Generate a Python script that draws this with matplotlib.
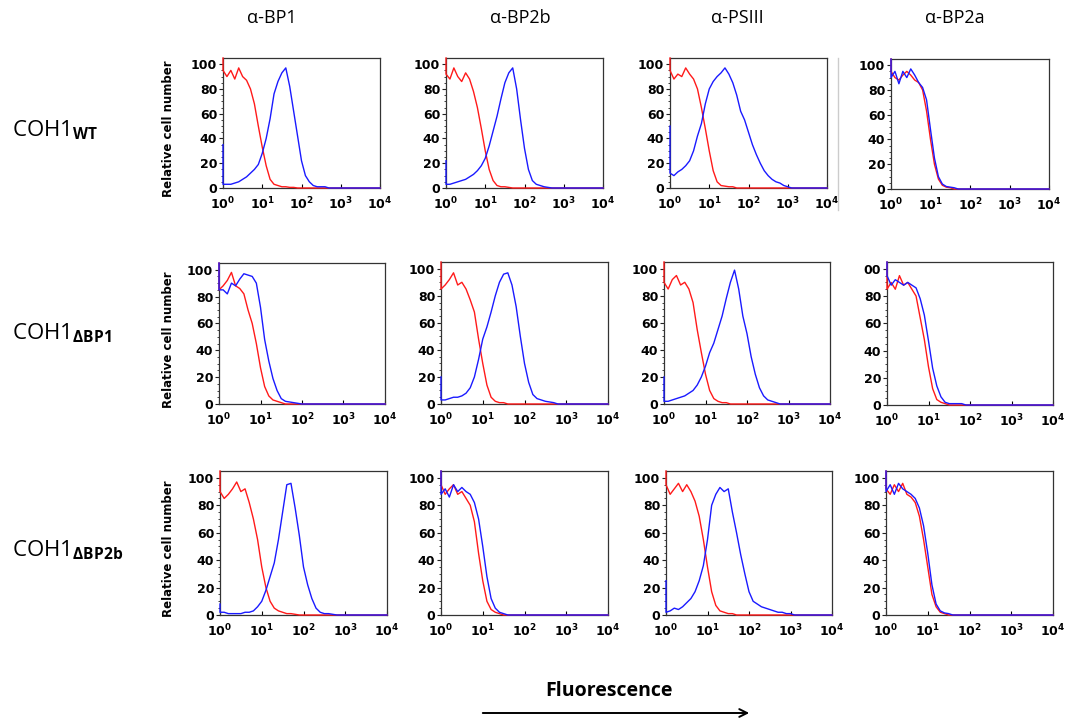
import numpy as np
import matplotlib.pyplot as plt
from matplotlib.ticker import LogLocator, NullFormatter

# 눈금 라벨은 굵은 DejaVu, 아래첨자는 Open Sans 굵게
plt.rcParams['mathtext.fontset'] = 'custom'
plt.rcParams['mathtext.rm'] = 'DejaVu Sans:bold'
plt.rcParams['mathtext.bf'] = 'Open Sans:bold'
plt.rcParams['mathtext.default'] = 'rm'

col_titles = ['α-BP1', 'α-BP2b', 'α-PSIII', 'α-BP2a']
row_strains = ['WT', 'ΔBP1', 'ΔBP2b']
x_tick_labels = [r'$10^{0}$', r'$10^{1}$', r'$10^{2}$', r'$10^{3}$', r'$10^{4}$']
y_tick_labels = ['0', '20', '40', '60', '80', '100']

# log10(fluorescence) bins: first entry is the spike at 10^0, then 0.0 .. 4.0
log_bins = [0.0] + [round(0.1 * i, 1) for i in range(41)]

# red = control, blue = antibody  (relative cell number)
wt_bp1_red = [105, 95, 90, 95, 88, 97, 90, 87, 80, 68, 50, 33, 18, 7, 3, 2, 1, 1, 0.5, 0.5]
wt_bp1_blue = [35, 3, 3, 3, 4, 5, 7, 9, 12, 15, 19, 28, 40, 56, 76, 86, 93, 97, 82, 62, 42, 22, 10, 5, 2, 1, 1, 1]
wt_bp2b_red = [105, 92, 88, 97, 90, 86, 93, 88, 78, 65, 48, 30, 15, 6, 2, 1, 1, 0.5]
wt_bp2b_blue = [22, 3, 3, 4, 5, 6, 7, 9, 11, 14, 18, 24, 34, 46, 58, 72, 85, 93, 97, 80, 55, 32, 15, 6, 3, 2, 1, 0.5]
wt_psiii_red = [105, 95, 88, 92, 90, 97, 92, 88, 80, 65, 48, 30, 14, 5, 2, 1.5, 1, 1]
wt_psiii_blue = [50, 12, 10, 13, 15, 18, 22, 30, 42, 52, 68, 80, 86, 90, 93, 97, 92, 85, 75, 62, 55, 45, 35, 27, 20, 14, 10, 7, 5, 4, 2, 1]
wt_bp2a_red = [105, 95, 90, 88, 92, 95, 92, 88, 86, 80, 63, 40, 20, 8, 3, 1.5, 1]
wt_bp2a_blue = [105, 90, 95, 85, 95, 90, 97, 92, 86, 82, 72, 48, 25, 10, 4, 2, 1.5, 1]

d1_bp1_red = [105, 85, 88, 92, 98, 88, 86, 82, 70, 60, 45, 27, 13, 6, 3, 2, 1]
d1_bp1_blue = [105, 85, 85, 82, 90, 88, 93, 97, 96, 95, 90, 72, 48, 32, 19, 10, 4, 2, 1.5, 1, 0.5]
d1_bp2b_red = [105, 85, 88, 92, 97, 88, 90, 85, 77, 68, 48, 30, 14, 5, 2, 1, 1]
d1_bp2b_blue = [20, 3, 3, 4, 5, 5, 6, 8, 12, 20, 33, 48, 57, 68, 80, 90, 96, 97, 88, 72, 50, 30, 16, 7, 4, 3, 2, 1.5, 1]
d1_psiii_red = [105, 90, 85, 92, 95, 88, 90, 85, 75, 55, 38, 22, 10, 4, 2, 1, 1]
d1_psiii_blue = [20, 2, 2, 3, 4, 5, 6, 8, 10, 14, 20, 28, 38, 45, 55, 65, 78, 90, 99, 85, 65, 52, 35, 22, 12, 6, 3, 2, 1]
d1_bp2a_red = [105, 85, 90, 85, 95, 88, 90, 85, 80, 64, 48, 28, 12, 4, 2, 1]
d1_bp2a_blue = [105, 95, 88, 92, 90, 88, 90, 88, 86, 78, 66, 47, 27, 14, 6, 2, 1, 1, 1, 1]

d2_bp1_red = [105, 90, 85, 88, 92, 97, 90, 92, 82, 70, 55, 35, 20, 10, 5, 3, 2, 1, 1, 0.5]
d2_bp1_blue = [8, 2, 2, 1, 1, 1, 1, 2, 2, 3, 6, 10, 18, 28, 38, 55, 75, 95, 96, 78, 58, 35, 22, 12, 5, 2, 1, 1, 0.5]
d2_bp2b_red = [105, 95, 88, 92, 95, 88, 90, 85, 80, 68, 45, 25, 10, 4, 2, 1]
d2_bp2b_blue = [105, 88, 92, 86, 95, 90, 93, 90, 88, 82, 70, 50, 28, 12, 5, 2, 1]
d2_psiii_red = [105, 95, 88, 92, 96, 90, 95, 90, 83, 72, 55, 35, 17, 7, 3, 2, 1, 1]
d2_psiii_blue = [25, 2, 3, 5, 4, 6, 9, 12, 17, 25, 36, 55, 80, 88, 93, 90, 92, 75, 60, 44, 30, 17, 10, 8, 6, 5, 4, 3, 2, 2, 1, 1]
d2_bp2a_red = [105, 92, 88, 95, 90, 96, 88, 86, 82, 72, 55, 35, 15, 6, 2, 1]
d2_bp2a_blue = [105, 90, 95, 88, 96, 92, 90, 88, 85, 78, 65, 45, 22, 8, 3, 1.5, 1]

panels = [
    [(wt_bp1_red, wt_bp1_blue), (wt_bp2b_red, wt_bp2b_blue),
     (wt_psiii_red, wt_psiii_blue), (wt_bp2a_red, wt_bp2a_blue)],
    [(d1_bp1_red, d1_bp1_blue), (d1_bp2b_red, d1_bp2b_blue),
     (d1_psiii_red, d1_psiii_blue), (d1_bp2a_red, d1_bp2a_blue)],
    [(d2_bp1_red, d2_bp1_blue), (d2_bp2b_red, d2_bp2b_blue),
     (d2_psiii_red, d2_psiii_blue), (d2_bp2a_red, d2_bp2a_blue)],
]

W, H = 1066, 724

# 패널 위치 (픽셀: 왼쪽, 위, 오른쪽, 아래)
boxes = [
    [(223, 58, 380, 188), (446, 58, 603, 188), (670, 58, 827, 188), (891, 59, 1049, 189)],
    [(219, 263, 385, 404), (441, 262, 608, 404), (664, 262, 830, 404), (887, 262, 1053, 405)],
    [(220, 471, 387, 615), (441, 471, 608, 615), (666, 471, 832, 615), (886, 471, 1053, 615)],
]
title_x = [272, 520, 737, 955]
row_label_y = [130, 333, 550]


def pad(vals):
    return list(vals) + [0] * (len(log_bins) - len(vals))


def px_rect(l, t, r, b):
    return [l / W, 1 - b / H, (r - l) / W, (b - t) / H]


fig = plt.figure(figsize=(W / 100, H / 100), dpi=100)
x = 10 ** np.array(log_bins)

for r in range(3):
    for c in range(4):
        red, blue = panels[r][c]
        ax = fig.add_axes(px_rect(*boxes[r][c]))
        ax.plot(x, pad(red), color='#ff1a1a', lw=1.0, clip_on=False, zorder=3)
        ax.plot(x, pad(blue), color='#1a1aff', lw=1.0, clip_on=False, zorder=4)
        ax.set_xscale('log')
        ax.set_xlim(1, 1e4)
        ax.set_ylim(0, 105)
        ax.set_xticks([1, 10, 100, 1000, 10000])
        ax.set_xticklabels(x_tick_labels, fontsize=9)
        ax.xaxis.set_minor_locator(LogLocator(base=10, subs=np.arange(2, 10)))
        ax.xaxis.set_minor_formatter(NullFormatter())
        ax.set_yticks(range(0, 101, 20))
        labels = list(y_tick_labels)
        if r == 1 and c == 3:
            labels[-1] = '00'   # clipped in the original figure
        ax.set_yticklabels(labels, fontsize=9, fontweight='bold', family='DejaVu Sans')
        ax.set_yticks(range(0, 105, 5), minor=True)
        ax.tick_params(axis='y', which='major', length=3, width=0.8, pad=1.2, color='#222222')
        ax.tick_params(axis='y', which='minor', length=1.8, width=0.6, color='#222222')
        ax.tick_params(axis='x', which='major', direction='in', length=3, width=0.8, pad=5.5)
        ax.tick_params(axis='x', which='minor', direction='in', length=2, width=0.6)
        for s in ax.spines.values():
            s.set_linewidth(0.9)
            s.set_color('#333333')
        if c == 0:
            l, t, rr, b = boxes[r][c]
            fig.text(169 / W, 1 - ((t + b) / 2 + 6) / H, 'Relative cell number',
                     rotation=90, ha='center', va='center', fontsize=8.5,
                     fontweight='bold', family='DejaVu Sans')

for c, title in enumerate(col_titles):
    fig.text(title_x[c] / W, 1 - 18 / H, title, ha='center', va='center',
             fontsize=13, family='Open Sans')

for r, strain in enumerate(row_strains):
    fig.text(12 / W, 1 - row_label_y[r] / H, 'COH1$_{\\mathbf{' + strain + '}}$',
             ha='left', va='center', fontsize=16, family='Open Sans')

fig.text(609 / W, 1 - 691 / H, 'Fluorescence', ha='center', va='center',
         fontsize=14, fontweight='bold', family='Open Sans')
fig.add_artist(plt.Line2D([838 / W, 838 / W], [1 - 58 / H, 1 - 210 / H],
                          color='#cccccc', lw=1))
fig.patches.append(plt.matplotlib.patches.FancyArrowPatch(
    (480 / W, 1 - 713 / H), (752 / W, 1 - 713 / H), transform=fig.transFigure,
    arrowstyle='->', mutation_scale=14, lw=1.4, color='black'))

fig.savefig('out.png', dpi=100)
